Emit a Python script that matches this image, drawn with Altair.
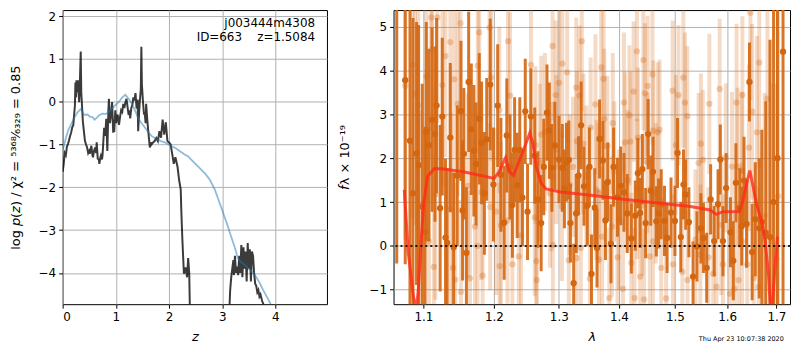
import altair as alt
import pandas as pd

FONT = "DejaVu Sans"
ORANGE = "#d4660f"

# ---------------- left panel: p(z) ----------------
blue_z = [0.00, 0.02, 0.06, 0.11, 0.17, 0.23, 0.28, 0.34, 0.38, 0.42,
          0.47, 0.51, 0.56, 0.60, 0.64, 0.69, 0.75, 0.81, 0.86, 0.90,
          0.98, 1.06, 1.12, 1.18, 1.24, 1.28, 1.33, 1.38, 1.42, 1.48,
          1.55, 1.61, 1.67, 1.76, 1.85, 1.94, 2.03, 2.12, 2.20, 2.28,
          2.36, 2.44, 2.52, 2.60, 2.68, 2.77, 2.86, 2.95, 3.03, 3.10,
          3.16, 3.22, 3.26, 3.29, 3.35, 3.44, 3.53, 3.62, 3.70, 3.77,
          3.84, 3.90, 3.95]
blue_logp = [-1.10, -1.05, -0.85, -0.65, -0.50, -0.35, -0.25, -0.17, -0.27, -0.31,
             -0.30, -0.35, -0.36, -0.42, -0.38, -0.31, -0.28, -0.29, -0.24, -0.20,
             -0.10, 0.00, 0.10, 0.16, 0.07, 0.00, -0.12, -0.26, -0.39, -0.50,
             -0.61, -0.71, -0.80, -0.87, -0.92, -0.96, -1.03, -1.08, -1.15, -1.22,
             -1.28, -1.38, -1.48, -1.58, -1.68, -1.83, -2.05, -2.36, -2.64, -2.89,
             -3.12, -3.34, -3.50, -3.65, -3.74, -3.83, -3.94, -4.06, -4.22, -4.40,
             -4.56, -4.70, -4.85]

dark_a_z = [0.00, 0.02, 0.04, 0.06, 0.08, 0.10, 0.12, 0.14, 0.16, 0.18,
            0.20, 0.21, 0.23, 0.24, 0.25, 0.26, 0.27, 0.28, 0.29, 0.30,
            0.31, 0.32, 0.34, 0.35, 0.36, 0.38, 0.40, 0.42, 0.44, 0.46,
            0.48, 0.50, 0.51, 0.53, 0.54, 0.56, 0.57, 0.59, 0.61, 0.63,
            0.64, 0.66, 0.68, 0.69, 0.71, 0.72, 0.74, 0.75, 0.78, 0.80,
            0.82, 0.84, 0.86, 0.87, 0.89, 0.91, 0.93, 0.95, 0.97, 0.99,
            1.01, 1.03, 1.05, 1.06, 1.08, 1.10, 1.12, 1.14, 1.16, 1.18,
            1.20, 1.22, 1.24, 1.26, 1.27, 1.29, 1.31, 1.33, 1.35, 1.37,
            1.39, 1.41, 1.42, 1.44, 1.45, 1.47, 1.48, 1.49, 1.51, 1.53,
            1.54, 1.56, 1.57, 1.59, 1.61, 1.63, 1.64, 1.66, 1.67, 1.70,
            1.73, 1.76, 1.79, 1.82, 1.85, 1.88, 1.91, 1.94, 1.97, 2.00,
            2.03, 2.06, 2.09, 2.12, 2.16, 2.19, 2.22, 2.23, 2.25, 2.28,
            2.31, 2.34, 2.36, 2.38, 2.39, 2.42]
dark_a_logp = [-1.64, -1.45, -1.20, -1.25, -1.05, -0.99, -0.90, -0.80, -0.72, -0.60,
               -0.55, -0.39, -0.10, 0.45, 0.10, 0.50, 0.22, 0.40, 0.50, 0.20,
               -0.01, 0.30, 1.17, 0.20, 0.00, -0.46, -0.70, -0.92, -1.00, -1.07,
               -1.20, -1.15, -1.22, -1.10, -1.03, -1.25, -1.30, -1.15, -1.07, -1.20,
               -0.95, -1.33, -1.35, -1.45, -1.30, -1.26, -1.35, -1.25, -0.61, -0.80,
               -0.40, -1.15, -0.20, 0.07, -0.50, -0.30, -0.01, -0.70, -0.69, -0.20,
               -0.50, -0.30, -0.39, -0.54, -0.35, -0.20, -0.24, -0.05, -0.15, -0.01,
               0.07, -0.12, -0.31, -0.20, -0.39, -0.15, -0.08, 0.10, 0.03, 0.20,
               -0.16, 0.05, -0.69, -0.20, -0.01, 0.30, 1.28, 0.40, 0.00, -0.30,
               -0.24, -0.50, -0.05, -0.40, -0.69, -0.95, -1.07, -0.95, -1.00, -0.95,
               -0.92, -0.85, -0.92, -0.69, -0.84, -0.42, -0.77, -0.48, -0.92, -0.95,
               -1.00, -1.22, -1.45, -1.30, -1.52, -1.83, -2.05, -2.50, -3.19, -4.02,
               -3.87, -4.10, -3.65, -4.00, -4.70, -6.50]

dark_b_z = [3.11, 3.13, 3.15, 3.17, 3.19, 3.21, 3.22, 3.24, 3.26, 3.28,
            3.30, 3.32, 3.34, 3.36, 3.38, 3.40, 3.42, 3.44, 3.46, 3.48,
            3.50, 3.52, 3.54, 3.56, 3.58, 3.60, 3.62, 3.64, 3.66, 3.68,
            3.70, 3.72, 3.75, 3.78, 3.82, 3.86]
dark_b_logp = [-6.00, -5.00, -4.40, -4.10, -3.90, -3.70, -4.05, -3.60, -4.00, -3.85,
               -4.05, -3.60, -4.00, -3.35, -4.10, -3.40, -3.90, -3.50, -4.20, -3.30,
               -3.90, -3.45, -4.20, -3.50, -3.60, -4.00, -4.25, -4.30, -4.45, -4.40,
               -4.55, -4.50, -4.65, -4.75, -4.90, -5.20]

LEFT_YTICKS = [-4, -3, -2, -1, 0, 1, 2]
LEFT_XTICKS = [0, 1, 2, 3, 4]

# ---------------- right panel: spectrum ----------------
dark_wave = [1.0645, 1.0757, 1.0820, 1.0860, 1.0908, 1.0935, 1.0985, 1.1023, 1.1040, 1.1075,
             1.1119, 1.1159, 1.1181, 1.1230, 1.1260, 1.1305, 1.1328, 1.1372, 1.1419, 1.1470,
             1.1522, 1.1545, 1.1563, 1.1600, 1.1632, 1.1670, 1.1707, 1.1739, 1.1785, 1.1819,
             1.1860, 1.1894, 1.1946, 1.1993, 1.2056, 1.2104, 1.2153, 1.2192, 1.2240, 1.2276,
             1.2310, 1.2350, 1.2389, 1.2430, 1.2473, 1.2508, 1.2559, 1.2620, 1.2670, 1.2720,
             1.2761, 1.2812, 1.2849, 1.2889, 1.2936, 1.3004, 1.3056, 1.3090, 1.3123, 1.3161,
             1.3187, 1.3240, 1.3282, 1.3320, 1.3362, 1.3410, 1.3464, 1.3500, 1.3534, 1.3588,
             1.3627, 1.3670, 1.3726, 1.3769, 1.3809, 1.3863, 1.3908, 1.3975, 1.4031, 1.4087,
             1.4144, 1.4216, 1.4285, 1.4331, 1.4371, 1.4410, 1.4469, 1.4514, 1.4561, 1.4601,
             1.4661, 1.4702, 1.4750, 1.4809, 1.4857, 1.4929, 1.5001, 1.5049, 1.5110, 1.5160,
             1.5201, 1.5261, 1.5340, 1.5414, 1.5489, 1.5538, 1.5600, 1.5676, 1.5745, 1.5820,
             1.5864, 1.5916, 1.5979, 1.6064, 1.6121, 1.6172, 1.6250, 1.6289, 1.6335, 1.6386,
             1.6445, 1.6499, 1.6564, 1.6644, 1.6698, 1.6779, 1.6866, 1.6941, 1.7023, 1.7140]
dark_flux = [5.50, 3.78, 2.40, 1.20, 2.11, 1.84, 0.90, 0.32, 2.61, 2.30,
             2.88, 2.55, 3.20, 0.86, 2.95, 0.19, 0.07, 2.47, -0.03, 1.60,
             3.08, 0.81, 2.10, -0.16, 3.74, 2.66, 2.17, 1.87, 2.90, 2.35,
             1.20, 2.43, 3.68, 1.40, 3.20, 1.62, 0.53, 2.52, 1.80, 0.93,
             2.19, 1.38, 2.19, 1.10, 3.07, 0.78, 2.95, 2.06, 1.06, 0.52,
             1.80, 3.04, 2.63, 1.78, 2.29, 1.97, 1.78, 1.30, 1.91, 1.96,
             0.52, -0.85, 0.74, 1.60, 2.75, 1.36, 0.91, 1.80, -0.64, 0.87,
             -0.05, 2.44, 1.95, 0.58, 1.46, 0.05, 1.80, 1.11, 1.37, 1.22,
             0.74, 0.17, 0.69, 1.66, 0.75, 1.75, 0.52, 2.55, 1.26, 1.69,
             0.56, 0.74, 0.95, 0.57, 0.18, 0.76, 0.57, 2.12, 0.20, 1.40,
             1.17, 0.54, -0.70, -0.01, 0.40, 0.18, -0.50, 1.06, 0.11, 0.95,
             1.97, 0.11, 1.32, 0.31, -0.34, 1.44, 0.87, 0.45, 1.49, 0.50,
             3.74, -0.14, 0.61, 0.40, 0.55, 0.30, 0.20, 1.00, 2.00, 4.43]
dark_err = [5.90, 4.20, 4.50, 4.00, 3.00, 3.20, 2.80, 2.40, 2.50, 2.20,
            2.10, 2.00, 2.00, 1.90, 1.80, 1.80, 1.70, 1.70, 1.70, 1.60,
            1.60, 1.60, 1.50, 1.50, 1.60, 1.50, 1.50, 1.40, 1.50, 1.40,
            1.40, 1.40, 1.50, 1.30, 1.40, 1.30, 1.30, 1.30, 1.20, 1.20,
            1.20, 1.20, 1.20, 1.10, 1.20, 1.10, 1.10, 1.10, 1.10, 1.10,
            1.10, 1.10, 1.10, 1.00, 1.00, 1.00, 1.00, 0.90, 0.90, 0.90,
            0.90, 0.90, 0.90, 0.90, 1.00, 0.90, 0.90, 0.90, 0.90, 0.90,
            0.90, 0.90, 0.90, 0.90, 0.90, 0.90, 0.90, 0.90, 0.90, 0.90,
            0.90, 0.80, 0.80, 0.80, 0.80, 0.80, 0.80, 0.80, 0.80, 0.80,
            0.80, 0.80, 0.80, 0.80, 0.80, 0.80, 0.80, 0.80, 0.80, 0.80,
            0.80, 0.80, 0.80, 0.80, 0.80, 0.80, 0.80, 0.80, 0.80, 0.80,
            0.80, 0.80, 0.80, 0.80, 0.90, 0.90, 0.90, 0.90, 1.00, 1.00,
            0.90, 1.10, 1.30, 1.60, 2.10, 3.00, 4.50, 6.00, 6.00, 6.00]

light_wave = [1.0757, 1.0851, 1.0888, 1.0930, 1.0953, 1.1040, 1.1075, 1.1106, 1.1119, 1.1144,
              1.1165, 1.1191, 1.1262, 1.1303, 1.1372, 1.1380, 1.1410, 1.1428, 1.1440, 1.1478,
              1.1514, 1.1522, 1.1621, 1.1651, 1.1723, 1.1760, 1.1764, 1.1785, 1.1817, 1.1834,
              1.1936, 1.1945, 1.1960, 1.2032, 1.2080, 1.2085, 1.2104, 1.2203, 1.2211, 1.2241,
              1.2276, 1.2374, 1.2409, 1.2561, 1.2620, 1.2630, 1.2645, 1.2650, 1.2700, 1.2720,
              1.2780, 1.2860, 1.2884, 1.2900, 1.2905, 1.2952, 1.2960, 1.3004, 1.3050, 1.3056,
              1.3134, 1.3161, 1.3176, 1.3230, 1.3282, 1.3287, 1.3293, 1.3336, 1.3357, 1.3373,
              1.3400, 1.3450, 1.3507, 1.3520, 1.3600, 1.3616, 1.3650, 1.3659, 1.3698, 1.3714,
              1.3736, 1.3750, 1.3802, 1.3835, 1.3880, 1.3894, 1.3920, 1.3975, 1.4000, 1.4070,
              1.4087, 1.4104, 1.4150, 1.4182, 1.4199, 1.4216, 1.4256, 1.4273, 1.4314, 1.4320,
              1.4331, 1.4371, 1.4410, 1.4428, 1.4440, 1.4457, 1.4500, 1.4504, 1.4544, 1.4591,
              1.4601, 1.4605, 1.4650, 1.4688, 1.4720, 1.4750, 1.4839, 1.4959, 1.4965, 1.5019,
              1.5067, 1.5139, 1.5157, 1.5188, 1.5231, 1.5235, 1.5384, 1.5445, 1.5478, 1.5489,
              1.5525, 1.5632, 1.5651, 1.5726, 1.5788, 1.5852, 1.5883, 1.5916, 1.5971, 1.6056,
              1.6095, 1.6141, 1.6186, 1.6205, 1.6225, 1.6289, 1.6295, 1.6302, 1.6400, 1.6433,
              1.6464, 1.6499, 1.6532, 1.6598, 1.6632, 1.6644, 1.6753, 1.6813, 1.6900, 1.7002,
              1.7037]
light_flux = [3.65, 4.13, 3.47, 3.21, 0.10, 3.86, 0.10, 5.21, 4.48, -0.48,
              1.17, 5.21, 3.67, 4.33, 4.65, 0.84, -0.50, 3.80, -0.77, 3.24,
              5.08, -1.05, 1.37, -0.74, 0.44, 0.00, 4.11, 4.87, 1.22, -0.68,
              4.98, 0.89, 3.84, 0.78, 3.10, -0.46, 0.47, 0.58, 4.67, 3.43,
              -0.42, -0.24, 0.24, 4.13, 0.65, 2.30, -0.35, -0.78, 1.90, 2.54,
              2.60, 1.20, 1.58, 4.56, 0.02, 3.44, 2.20, 3.72, 0.90, 4.16,
              3.96, -0.33, 1.39, 1.80, 3.61, -0.28, 2.39, 3.43, -0.05, 4.67,
              2.33, 1.60, -0.75, 2.70, 3.23, 1.28, 1.20, -0.31, 4.07, 0.21,
              3.81, 2.90, 2.28, -1.19, 0.44, 2.80, 1.70, -0.26, 0.60, -0.98,
              3.27, 2.36, 1.50, 2.98, 2.38, -0.39, 3.52, -1.19, 4.44, 1.30,
              2.47, -0.70, 0.92, 4.24, -1.22, 3.48, 1.90, 3.65, -0.24, 3.91,
              0.10, 2.63, 1.20, 2.59, 2.65, -0.50, -1.20, 3.54, -0.42, 2.30,
              3.44, -0.59, 3.84, 3.27, 2.96, -0.78, 0.14, 1.89, -0.20, 2.33,
              1.96, -0.26, 3.24, -0.64, -0.93, 3.58, 0.48, -0.42, 2.01, -1.09,
              1.81, -0.98, 3.27, 1.81, -0.78, 1.72, 0.10, 3.44, -0.42, 2.24,
              5.32, 3.06, -0.73, 2.59, -0.94, 4.18, 0.69, 3.36, 0.11, -0.30,
              1.13]
light_err = [3.50, 3.50, 3.00, 3.00, 3.00, 2.80, 2.60, 2.60, 2.50, 2.50,
             2.40, 2.40, 2.30, 2.30, 2.20, 2.20, 2.20, 2.20, 2.20, 2.10,
             2.10, 2.10, 2.10, 2.00, 2.00, 2.00, 2.00, 2.00, 2.00, 2.00,
             2.00, 1.90, 1.90, 1.90, 1.90, 1.90, 1.90, 1.90, 1.90, 1.90,
             1.80, 1.80, 1.80, 1.80, 1.80, 1.80, 1.80, 1.80, 1.80, 1.80,
             1.80, 1.70, 1.70, 1.70, 1.70, 1.70, 1.70, 1.70, 1.70, 1.70,
             1.60, 1.60, 1.60, 1.60, 1.60, 1.60, 1.60, 1.60, 1.60, 1.60,
             1.60, 1.60, 1.60, 1.60, 1.60, 1.60, 1.60, 1.60, 1.60, 1.60,
             1.60, 1.60, 1.60, 1.60, 1.60, 1.60, 1.60, 1.60, 1.60, 1.60,
             1.60, 1.60, 1.60, 1.60, 1.60, 1.60, 1.60, 1.60, 1.60, 1.60,
             1.60, 1.60, 1.60, 1.60, 1.60, 1.60, 1.60, 1.60, 1.60, 1.60,
             1.60, 1.60, 1.60, 1.60, 1.60, 1.60, 1.60, 1.60, 1.60, 1.60,
             1.60, 1.60, 1.60, 1.60, 1.60, 1.60, 1.60, 1.60, 1.60, 1.60,
             1.60, 1.60, 1.60, 1.60, 1.60, 1.60, 1.60, 1.60, 1.70, 1.70,
             1.70, 1.70, 1.80, 1.80, 1.80, 1.80, 1.80, 1.80, 1.90, 1.90,
             2.00, 2.00, 2.10, 2.20, 2.30, 2.40, 2.80, 3.20, 3.60, 4.00,
             4.50]

model_wave = [1.0744, 1.0796, 1.0861, 1.0904, 1.0934, 1.0969, 1.1005, 1.1058, 1.1146, 1.1250,
              1.1555, 1.2003, 1.2075, 1.2173, 1.2231, 1.2295, 1.2343, 1.2443, 1.2543, 1.2593,
              1.2644, 1.2720, 1.2797, 1.3029, 1.3562, 1.4114, 1.4690, 1.4989, 1.5291, 1.5662,
              1.5787, 1.5915, 1.6237, 1.6302, 1.6380, 1.6453, 1.6512, 1.6599, 1.6699, 1.6766,
              1.6835, 1.6867, 1.6900, 1.6969, 1.7023]
model_flux = [1.28, -0.13, -1.09, -1.50, -0.94, 0.10, 0.98, 1.58, 1.76, 1.76,
              1.69, 1.54, 1.69, 2.01, 1.69, 1.61, 1.80, 2.17, 2.58, 2.32,
              1.80, 1.43, 1.30, 1.23, 1.15, 1.06, 0.98, 0.94, 0.90, 0.82,
              0.72, 0.78, 0.78, 0.98, 1.39, 1.72, 1.39, 0.91, 0.54, 0.10,
              -0.64, -1.27, -1.60, -0.50, 0.21]

RIGHT_XTICKS = [1.1, 1.2, 1.3, 1.4, 1.5, 1.6, 1.7]
RIGHT_YTICKS = [-1, 0, 1, 2, 3, 4, 5]

LEFT_YTITLE = "log \U0001D631(\U0001D63B) / \u03c7\u00b2 = \u2075\u00b3\u2076\u2078\u2044\u2086\u2083\u2082\u2089 = 0.85"
RIGHT_YTITLE = "\U0001D627\u03bb \u00d7 10\u207b\u00b9\u2079"
OBJ_NAME = "j003444m4308"
OBJ_INFO = "ID=663\u00a0\u00a0\u00a0\u00a0z=1.5084"
DATE_TEXT = "Thu Apr 23 10:07:38 2020"

# ---------------- build left ----------------
LW, LH = 266, 296
blue_df = pd.DataFrame({"z": blue_z, "logp": blue_logp})
dark_df = pd.concat([
    pd.DataFrame({"z": dark_a_z, "logp": dark_a_logp, "seg": "a"}),
    pd.DataFrame({"z": dark_b_z, "logp": dark_b_logp, "seg": "b"}),
])

xz = alt.X("z:Q", scale=alt.Scale(domain=[0, 4.97], nice=False, zero=False),
           axis=alt.Axis(values=LEFT_XTICKS, format="d", titleFontStyle="italic"),
           title="z")
yp = alt.Y("logp:Q", scale=alt.Scale(domain=[-4.73, 2.14], nice=False, zero=False),
           axis=alt.Axis(values=LEFT_YTICKS, format="d", titlePadding=16), title=LEFT_YTITLE)

left_dark = alt.Chart(dark_df).mark_line(color="black", opacity=0.77, strokeWidth=2, clip=True).encode(
    x=xz, y=yp, detail="seg:N")
left_blue = alt.Chart(blue_df).mark_line(color="#1f77b4", opacity=0.5, strokeWidth=1.8, clip=True).encode(
    x=xz, y=yp)
one = pd.DataFrame({"a": [0]})
txt1 = alt.Chart(one).mark_text(text=OBJ_NAME, align="right", baseline="middle", font=FONT,
                                fontSize=12, color="black").encode(x=alt.value(254), y=alt.value(13))
txt2 = alt.Chart(one).mark_text(text=OBJ_INFO, align="right", baseline="middle", font=FONT,
                                fontSize=12, color="black").encode(x=alt.value(254), y=alt.value(27))
left = alt.layer(left_dark, left_blue, txt1, txt2).properties(width=LW, height=LH)

# ---------------- build right ----------------
RW, RH = 399, 296
dk = pd.DataFrame({"wave": dark_wave, "flux": dark_flux, "err": dark_err})
dk["lo"] = dk["flux"] - dk["err"]
dk["hi"] = dk["flux"] + dk["err"]
lt = pd.DataFrame({"wave": light_wave, "flux": light_flux, "err": light_err})
lt["lo"] = lt["flux"] - lt["err"]
lt["hi"] = lt["flux"] + lt["err"]
md = pd.DataFrame({"wave": model_wave, "flux": model_flux})

xs = alt.Scale(type="log", domain=[1.0603, 1.7288], nice=False, zero=False)
ys = alt.Scale(domain=[-1.33, 5.38], nice=False, zero=False)
xaxis = alt.Axis(values=RIGHT_XTICKS, format=".1f", titleFontStyle="italic")
yaxis = alt.Axis(values=RIGHT_YTICKS, format="d", titlePadding=18)


def X():
    return alt.X("wave:Q", scale=xs, axis=xaxis, title="\u03bb")


def Y(field):
    return alt.Y(field + ":Q", scale=ys, axis=yaxis, title=RIGHT_YTITLE)


light_bars = alt.Chart(lt).mark_rule(color=ORANGE, opacity=0.24, strokeWidth=4, clip=True).encode(
    x=X(), y=Y("lo"), y2="hi:Q")
light_pts = alt.Chart(lt).mark_circle(color=ORANGE, opacity=0.3, size=40, clip=True).encode(
    x=X(), y=Y("flux"))
dark_bars = alt.Chart(dk).mark_rule(color=ORANGE, opacity=0.9, strokeWidth=3, clip=True).encode(
    x=X(), y=Y("lo"), y2="hi:Q")
dark_pts = alt.Chart(dk).mark_circle(color=ORANGE, opacity=1, size=40, clip=True).encode(
    x=X(), y=Y("flux"))
model = alt.Chart(md).mark_line(color="#ff2b1a", opacity=0.8, strokeWidth=3, clip=True).encode(
    x=X(), y=Y("flux"))
zero = alt.Chart(pd.DataFrame({"flux": [0.0]})).mark_rule(
    color="black", strokeWidth=2, strokeDash=[2, 3], opacity=0.85).encode(y=Y("flux"))
date = alt.Chart(one).mark_text(text=DATE_TEXT, font=FONT, fontSize=6.5, color="black",
                                align="center", baseline="middle").encode(
    x=alt.value(350), y=alt.value(331))
right = alt.layer(light_bars, light_pts, dark_bars, dark_pts, model, zero, date).properties(
    width=RW, height=RH)

chart = alt.hconcat(left, right, spacing=9).properties(
    padding={"left": 0, "top": 0, "right": 0, "bottom": 0}
).configure_axis(
    labelFont=FONT, labelFontSize=12, labelColor="black",
    titleFont=FONT, titleFontSize=13, titleFontWeight="normal", titleColor="black",
    tickColor="black", tickSize=4, tickWidth=1, domain=False,
    grid=True, gridColor="#b0b0b0", gridWidth=1, labelPadding=3,
).configure_axisX(titlePadding=9).configure_view(
    stroke="black", strokeWidth=1
)

chart.save("out.html", embed_options={"renderer": "svg", "actions": False})
